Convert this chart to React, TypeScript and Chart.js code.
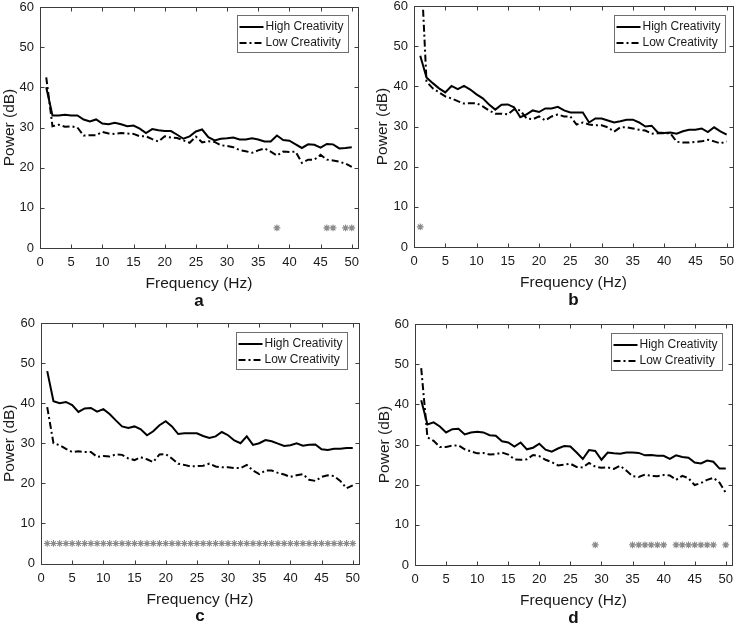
import React, { useEffect, useRef } from "react";
import { Chart, registerables } from "chart.js";

Chart.register(...registerables);

// ---------- data ----------
const FREQ = [1, 2, 3, 4, 5, 6, 7, 8, 9, 10, 11, 12, 13, 14, 15, 16, 17, 18, 19, 20, 21, 22, 23, 24, 25, 26, 27, 28, 29, 30, 31, 32, 33, 34, 35, 36, 37, 38, 39, 40, 41, 42, 43, 44, 45, 46, 47, 48, 49, 50];
const X_TICKS = [0, 5, 10, 15, 20, 25, 30, 35, 40, 45, 50];
const Y_TICKS = [0, 10, 20, 30, 40, 50, 60];
const X_MAX = 51;
const Y_MAX = 60;
const SIG_LEVEL = 5;
const SERIES_LABELS = ["High Creativity", "Low Creativity"];
const X_TITLE = "Frequency (Hz)";
const Y_TITLE = "Power (dB)";

const HIGH_A = [40, 33, 33, 33.2, 33, 33, 32, 31.5, 32, 31, 30.8, 31.2, 30.8, 30.3, 30.5, 29.7, 28.6, 29.6, 29.3, 29.1, 29.1, 28.2, 27.2, 27.8, 29, 29.5, 27.6, 26.8, 27.2, 27.3, 27.5, 27, 27, 27.3, 27, 26.5, 26.5, 28, 26.9, 26.7, 25.8, 24.9, 25.8, 25.7, 25, 25.9, 25.8, 24.8, 24.9, 25.1];
const LOW_A = [42.5, 30.3, 30.7, 30.2, 30.3, 30, 28, 28.1, 28.1, 28.9, 28.5, 28.4, 28.6, 28.5, 28.4, 27.8, 27.8, 27.1, 26.5, 27.8, 27.5, 27.4, 26.8, 26.2, 27.7, 26.3, 26.6, 26.4, 25.6, 25.4, 25.1, 24.4, 24.1, 23.7, 24.3, 24.8, 24, 23, 24, 23.9, 24, 21.2, 22, 22, 23.2, 22, 21.8, 21.5, 21, 20.2];
const SIG_A = [38, 46, 47, 49, 50];

const HIGH_B = [47.6, 42.2, 40.8, 39.5, 38.5, 40.1, 39.3, 40.1, 39.2, 38, 37, 35.5, 34.2, 35.4, 35.5, 34.8, 32.3, 33, 34, 33.6, 34.5, 34.5, 34.9, 34, 33.5, 33.5, 33.5, 31, 32, 32, 31.5, 31, 31.3, 31.7, 31.7, 31, 30, 30.2, 28.5, 28.4, 28.5, 28.2, 28.8, 29.2, 29.2, 29.5, 28.6, 29.8, 28.8, 28];
const LOW_B = [74, 41.2, 39.5, 38.5, 37.5, 37, 36.3, 35.7, 35.8, 35.8, 35, 34, 33.2, 33.2, 33, 34.3, 34, 32, 31.8, 32.5, 31.5, 32.5, 33, 32.5, 32.5, 30.5, 31, 30.5, 30.3, 30.3, 29.8, 28.7, 29.8, 29.8, 29.5, 29.2, 29, 28.2, 28.3, 28.3, 28.3, 26.2, 26, 26, 26.2, 26.3, 26.7, 26.3, 25.8, 26.3];
const SIG_B = [1];

const HIGH_C = [48, 40.5, 40, 40.3, 39.5, 37.8, 38.7, 38.8, 37.9, 38.5, 37.3, 35.7, 34.2, 33.8, 34.2, 33.5, 32, 33, 34.5, 35.5, 34.2, 32.3, 32.5, 32.5, 32.5, 31.8, 31.3, 31.7, 32.8, 32, 30.7, 30, 31.7, 29.6, 30, 30.8, 30.5, 29.9, 29.3, 29.5, 30, 29.4, 29.6, 29.7, 28.5, 28.3, 28.6, 28.6, 28.8, 28.8];
const LOW_C = [39, 30, 29.5, 28.6, 27.8, 28, 27.8, 27.8, 26.6, 26.8, 26.7, 27.2, 27.1, 26.2, 25.8, 26.5, 26, 25.3, 27.2, 27.3, 26.2, 24.9, 24.6, 24.2, 24.3, 24.4, 24.9, 24.2, 24, 24, 23.8, 23.8, 24.6, 23.2, 22.3, 23.2, 23.2, 22.6, 22.2, 21.6, 22, 22.3, 20.9, 20.6, 21.6, 22, 21.8, 20.6, 18.8, 19.5];
const SIG_C = [1, 2, 3, 4, 5, 6, 7, 8, 9, 10, 11, 12, 13, 14, 15, 16, 17, 18, 19, 20, 21, 22, 23, 24, 25, 26, 27, 28, 29, 30, 31, 32, 33, 34, 35, 36, 37, 38, 39, 40, 41, 42, 43, 44, 45, 46, 47, 48, 49, 50];

const HIGH_D = [41, 35, 35.5, 34.5, 33, 33.8, 33.9, 32.5, 33, 33.2, 33, 32.3, 32.2, 30.8, 30.5, 29.5, 30.5, 28.8, 29.2, 30.2, 28.7, 28.2, 29, 29.6, 29.5, 28, 26.4, 28.6, 28.4, 26.2, 28, 27.8, 27.7, 28, 28, 27.9, 27.3, 27.4, 27.2, 27.2, 26.4, 27.3, 26.9, 26.7, 25.5, 25.3, 26, 25.7, 24, 24];
const LOW_D = [49, 31.8, 30.9, 29.4, 29.4, 29.7, 29.8, 28.8, 28.3, 27.8, 27.9, 27.5, 27.6, 28, 27.5, 26.3, 26.2, 26.3, 27.4, 27.1, 26.2, 25.6, 24.8, 25, 25.2, 24.4, 24.3, 25.4, 24.5, 24.2, 24.3, 23.9, 24.7, 23.5, 22.1, 21.9, 22.5, 22.2, 22.1, 22.4, 22.3, 21.2, 22.2, 21.6, 19.9, 20.4, 21.2, 21.7, 20.5, 18];
const SIG_D = [29, 35, 36, 37, 38, 39, 40, 42, 43, 44, 45, 46, 47, 48, 50];

// ---------- layout / style ----------
const FONT = "'Liberation Sans', Arial, Helvetica, sans-serif";
const TEXT_COLOR = "#1a1a1a";
const FRAME_COLOR = "#3c3c3c";
const STAR_COLOR = "#8a8a8a";
const X_AXIS_H = 44;

type PanelCfg = {
  letter: string;
  high: number[];
  low: number[];
  sig: number[];
  left: number;
  top: number;
  width: number;
  height: number;
  area: { l: number; t: number; r: number; b: number };
  yTitleX: number;
  legendOff: { right: number; top: number };
};

const PANELS: PanelCfg[] = [
  { letter: "a", high: HIGH_A, low: LOW_A, sig: SIG_A, left: 0, top: 0, width: 369, height: 310, area: { l: 40, t: 7, r: 358, b: 248 }, yTitleX: 10, legendOff: { right: 10, top: 8 } },
  { letter: "b", high: HIGH_B, low: LOW_B, sig: SIG_B, left: 369, top: 0, width: 369, height: 310, area: { l: 45, t: 6, r: 364, b: 247 }, yTitleX: 14, legendOff: { right: 8, top: 9 } },
  { letter: "c", high: HIGH_C, low: LOW_C, sig: SIG_C, left: 0, top: 310, width: 369, height: 315, area: { l: 41, t: 13, r: 359, b: 253.5 }, yTitleX: 10, legendOff: { right: 12, top: 9 } },
  { letter: "d", high: HIGH_D, low: LOW_D, sig: SIG_D, left: 369, top: 310, width: 369, height: 315, area: { l: 46, t: 14, r: 363, b: 255 }, yTitleX: 16, legendOff: { right: 10, top: 9 } },
];

const frameLegendPlugin = {
  id: "frameLegend",
  afterDraw(chart: any, _args: any, opts: any) {
    const { ctx, chartArea: ca, scales } = chart;
    const xs = scales.x;
    const ys = scales.y;
    ctx.save();
    // frame
    ctx.strokeStyle = FRAME_COLOR;
    ctx.lineWidth = 1;
    ctx.setLineDash([]);
    const L = Math.round(ca.left) + 0.5;
    const R = Math.round(ca.right) + 0.5;
    const T = Math.round(ca.top) + 0.5;
    const B = Math.round(ca.bottom) + 0.5;
    ctx.strokeRect(L, T, R - L, B - T);
    // inward ticks
    const tl = 4;
    ctx.beginPath();
    for (const v of X_TICKS) {
      const px = Math.round(xs.getPixelForValue(v)) + 0.5;
      ctx.moveTo(px, B);
      ctx.lineTo(px, B - tl);
      ctx.moveTo(px, T);
      ctx.lineTo(px, T + tl);
    }
    for (const v of Y_TICKS) {
      const py = Math.round(ys.getPixelForValue(v)) + 0.5;
      ctx.moveTo(L, py);
      ctx.lineTo(L + tl, py);
      ctx.moveTo(R, py);
      ctx.lineTo(R - tl, py);
    }
    ctx.stroke();

    // legend box
    const items = chart.data.datasets.filter((d: any) => d.inLegend);
    const bw = 111;
    const bh = 37;
    const bx = Math.round(ca.right - opts.right - bw) + 0.5;
    const by = Math.round(ca.top + opts.top) + 0.5;
    ctx.fillStyle = "#ffffff";
    ctx.fillRect(bx, by, bw, bh);
    ctx.strokeStyle = "#6e6e6e";
    ctx.lineWidth = 1;
    ctx.strokeRect(bx, by, bw, bh);
    ctx.font = `12px ${FONT}`;
    ctx.textBaseline = "middle";
    ctx.textAlign = "left";
    items.forEach((d: any, i: number) => {
      const cy = by + 11.5 + i * 16;
      ctx.strokeStyle = d.borderColor;
      ctx.lineWidth = d.borderWidth;
      ctx.setLineDash(d.borderDash || []);
      ctx.beginPath();
      ctx.moveTo(bx + 2, cy);
      ctx.lineTo(bx + 26, cy);
      ctx.stroke();
      ctx.setLineDash([]);
      ctx.fillStyle = TEXT_COLOR;
      ctx.fillText(d.label, bx + 28, cy);
    });
    ctx.restore();
  },
};

function Panel({ cfg }: { cfg: PanelCfg }) {
  const ref = useRef<HTMLCanvasElement | null>(null);
  useEffect(() => {
    if (!ref.current) return;
    const { area, width, height } = cfg;
    const letterPadTop = 53 - X_AXIS_H - 8.5;
    const letterPadBottom = height - area.b - X_AXIS_H - letterPadTop - 17;
    const chart = new Chart(ref.current, {
      type: "line",
      data: {
        datasets: [
          {
            label: SERIES_LABELS[0],
            data: FREQ.map((f, i) => ({ x: f, y: cfg.high[i] })),
            borderColor: "#000000",
            borderWidth: 2,
            pointRadius: 0,
            tension: 0,
            fill: false,
            inLegend: true,
          } as any,
          {
            label: SERIES_LABELS[1],
            data: FREQ.map((f, i) => ({ x: f, y: cfg.low[i] })),
            borderColor: "#000000",
            borderWidth: 2,
            borderDash: [7, 3, 2, 3],
            pointRadius: 0,
            tension: 0,
            fill: false,
            inLegend: true,
          } as any,
          {
            label: "significant",
            data: cfg.sig.map((f) => ({ x: f, y: SIG_LEVEL })),
            showLine: false,
            pointStyle: "star",
            pointRadius: 3.4,
            pointBorderWidth: 1.1,
            pointBorderColor: STAR_COLOR,
            pointBackgroundColor: STAR_COLOR,
            borderColor: STAR_COLOR,
          } as any,
        ],
      },
      options: {
        responsive: false,
        animation: false,
        events: [],
        layout: {
          padding: { left: 0, top: area.t, right: width - area.r, bottom: 0 },
        },
        plugins: {
          legend: { display: false },
          tooltip: { enabled: false },
          title: {
            display: true,
            position: "bottom",
            fullSize: false,
            text: cfg.letter,
            color: "#111111",
            font: { family: FONT, size: 17, weight: "bold", lineHeight: 1 },
            padding: { top: letterPadTop, bottom: letterPadBottom },
          },
          frameLegend: cfg.legendOff,
        } as any,
        scales: {
          x: {
            type: "linear",
            min: 0,
            max: X_MAX,
            grid: { display: false, drawTicks: false },
            border: { display: false },
            ticks: {
              color: TEXT_COLOR,
              padding: 7,
              maxRotation: 0,
              autoSkip: false,
              font: { family: FONT, size: 13, lineHeight: 1.2 },
            },
            afterBuildTicks: (s: any) => {
              s.ticks = X_TICKS.map((v) => ({ value: v }));
            },
            afterFit: (s: any) => {
              s.height = X_AXIS_H;
              s.paddingLeft = 0;
              s.paddingRight = 0;
            },
            title: {
              display: true,
              text: X_TITLE,
              color: TEXT_COLOR,
              font: { family: FONT, size: 15.5, lineHeight: 1 },
              padding: { top: 0, bottom: X_AXIS_H - 36 - 7.75 },
            },
          },
          y: {
            type: "linear",
            min: 0,
            max: Y_MAX,
            grid: { display: false, drawTicks: false },
            border: { display: false },
            ticks: {
              color: TEXT_COLOR,
              padding: 6,
              autoSkip: false,
              font: { family: FONT, size: 13, lineHeight: 1 },
            },
            afterBuildTicks: (s: any) => {
              s.ticks = Y_TICKS.map((v) => ({ value: v }));
            },
            afterFit: (s: any) => {
              s.width = area.l;
              s.paddingTop = 0;
              s.paddingBottom = 0;
            },
            title: {
              display: true,
              text: Y_TITLE,
              color: TEXT_COLOR,
              font: { family: FONT, size: 15.5, lineHeight: 1 },
              padding: { top: cfg.yTitleX - 7.75, bottom: 0 },
            },
          },
        },
      } as any,
      plugins: [frameLegendPlugin as any],
    });
    return () => chart.destroy();
  }, [cfg]);

  return (
    <canvas
      ref={ref}
      width={cfg.width}
      height={cfg.height}
      style={{
        position: "absolute",
        left: cfg.left,
        top: cfg.top,
        width: cfg.width,
        height: cfg.height,
      }}
    />
  );
}

export default function App() {
  return (
    <div
      style={{
        position: "absolute",
        left: 0,
        top: 0,
        width: 738,
        height: 625,
        background: "#ffffff",
        overflow: "hidden",
      }}
    >
      {PANELS.map((p) => (
        <Panel key={p.letter} cfg={p} />
      ))}
    </div>
  );
}
